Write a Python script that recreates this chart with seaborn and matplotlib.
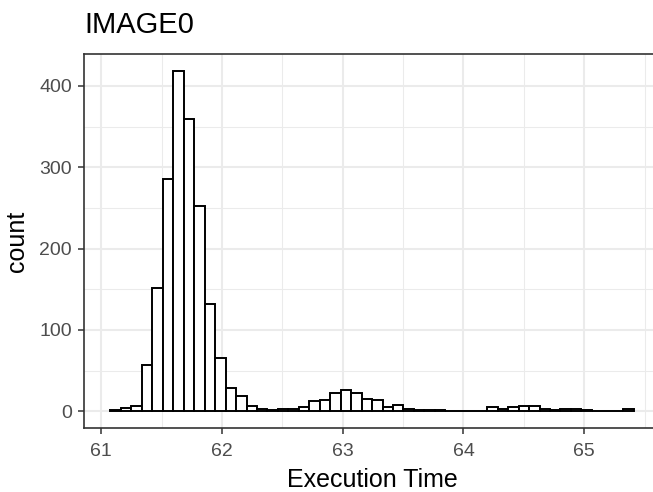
import numpy as np
import pandas as pd
import seaborn as sns
import matplotlib
matplotlib.use("Agg")
import matplotlib.pyplot as plt
from matplotlib.ticker import MultipleLocator

# ---- data (50 bins) ----
bin_start = 61.076
bin_width = 0.08668
counts = [1, 4, 7, 57, 151, 286, 419, 359, 252, 132,
          66, 29, 19, 7, 3, 2, 3, 3, 5, 13,
          14, 22, 26, 22, 15, 14, 5, 8, 3, 1,
          1, 1, 0, 0, 0, 0, 5, 3, 5, 6,
          6, 3, 1, 3, 3, 2, 0, 0, 0, 3]
x_ticks = [61, 62, 63, 64, 65]
y_ticks = [0, 100, 200, 300, 400]
title = "IMAGE0"
x_label = "Execution Time"
y_label = "count"

n_bins = len(counts)
edges = bin_start + bin_width * np.arange(n_bins + 1)
centers = (edges[:-1] + edges[1:]) / 2
df = pd.DataFrame({"time": centers, "count": counts})

sns.set_theme(style="white")
plt.rcParams["font.family"] = ["Liberation Sans", "DejaVu Sans"]

W, H = 653, 492
fig = plt.figure(figsize=(W / 100, H / 100), dpi=100)
left_px, right_px, top_px, bottom_px = 84.3, 659.9, 53.5, 428.3
ax = fig.add_axes([left_px / W, 1 - bottom_px / H,
                   (right_px - left_px) / W, (bottom_px - top_px) / H])

sns.histplot(data=df, x="time", weights="count", bins=[float(e) for e in edges],
             ax=ax, color="white", edgecolor="black", linewidth=1.4, alpha=1.0)

xmin, xmax = edges[0], edges[-1]
xr = xmax - xmin
ax.set_xlim(xmin - 0.05 * xr, xmax + 0.05 * xr)
ymax = max(counts)
ax.set_ylim(-0.05 * ymax, 1.05 * ymax)

ax.set_xticks(x_ticks)
ax.set_yticks(y_ticks)
ax.xaxis.set_minor_locator(MultipleLocator(0.5))
ax.yaxis.set_minor_locator(MultipleLocator(50))
ax.set_axisbelow(True)
ax.grid(which="major", color="#EBEBEB", linewidth=1.5)
ax.grid(which="minor", color="#EBEBEB", linewidth=0.75)
ax.tick_params(which="major", direction="out", length=4.3, width=1.1,
               color="#333333", labelcolor="#4D4D4D", labelsize=14,
               bottom=True, left=True)
ax.tick_params(axis="x", which="major", pad=6.0)
ax.tick_params(axis="y", which="major", pad=4.5)
ax.tick_params(which="minor", length=0)
for s in ax.spines.values():
    s.set_color("#333333")
    s.set_linewidth(1.2)
    s.set_visible(True)

ax.set_xlabel(x_label, fontsize=18, color="black", va="baseline")
ax.xaxis.set_label_coords(0.5, (bottom_px - 486.7) / (bottom_px - top_px))
ax.set_ylabel(y_label, fontsize=18, color="black", va="center")
ax.yaxis.set_label_coords((17 - left_px) / (right_px - left_px), 0.5)

fig.text(left_px / W, 1 - 33.3 / H, title, fontsize=21, color="black",
         ha="left", va="baseline")

fig.savefig("out.png", dpi=100)
